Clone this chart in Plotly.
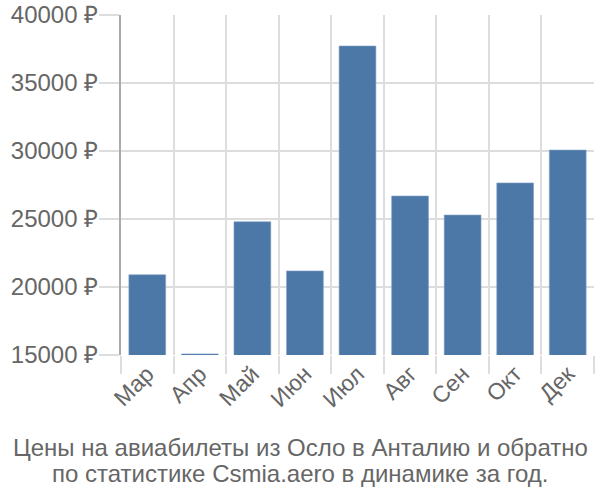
import plotly.graph_objects as go

months = ["Мар", "Апр", "Май", "Июн", "Июл", "Авг", "Сен", "Окт", "Дек"]
prices = [20900, 15080, 24800, 21180, 37720, 26690, 25290, 27650, 30070]
yticks = [15000, 20000, 25000, 30000, 35000, 40000]
ytick_labels = [f"{v} ₽" for v in yticks]
title_lines = ["Цены на авиабилеты из Осло в Анталию и обратно",
               "по статистике Csmia.aero в динамике за год."]

L, R, T, B = 121, 6, 15, 145
plot_w = 600 - L - R
plot_h = 500 - T - B
cx = (300 - L) / plot_w

fig = go.Figure(go.Bar(
    x=months, y=prices,
    marker=dict(color="#4c78a8", line=dict(color="#7f9fc4", width=0.6)),
))

annotations = []
for i, (line, ypx) in enumerate(zip(title_lines, [447, 473])):
    annotations.append(dict(
        text=line, x=cx, xref="paper", y=-(ypx - (500 - B)) / plot_h, yref="paper",
        yanchor="middle", xanchor="center", showarrow=False,
        font=dict(size=24, color="#666666"),
    ))

fig.update_layout(
    width=600, height=500,
    margin=dict(l=L, r=R, t=T, b=B, autoexpand=False),
    paper_bgcolor="white", plot_bgcolor="white",
    bargap=0.3,
    showlegend=False,
    font=dict(family="Liberation Sans, Arial, sans-serif", color="#666666"),
    xaxis=dict(
        tickangle=-45, tickfont=dict(size=23, color="#666666"),
        tickson="boundaries", ticks="outside", ticklen=18, tickcolor="#dddddd", tickwidth=2,
        showgrid=True, gridcolor="#dddddd", gridwidth=2,
        showline=False, zeroline=False, automargin=False,
    ),
    yaxis=dict(
        range=[15000, 40000],
        tickvals=yticks, ticktext=ytick_labels,
        tickfont=dict(size=24, color="#666666"),
        ticks="outside", ticklen=20, tickcolor="#dddddd", tickwidth=2,
        ticklabelstandoff=-4,
        showgrid=True, gridcolor="#dddddd", gridwidth=2,
        showline=True, linecolor="#aaaaaa", linewidth=2,
        zeroline=False, automargin=False,
    ),
    annotations=annotations,
)

fig.write_html("out.html")
